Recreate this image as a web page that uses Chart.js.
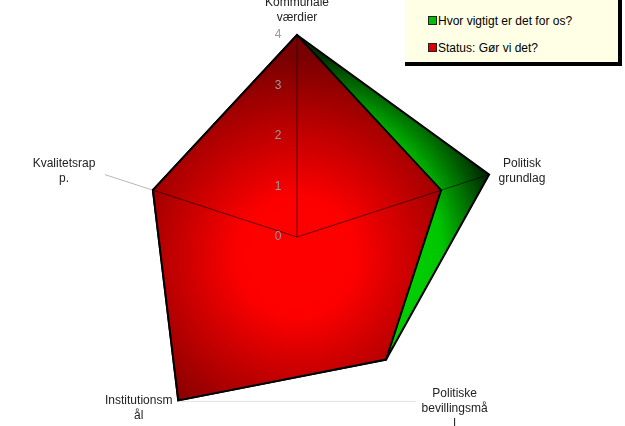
<!DOCTYPE html>
<html>
<head>
<meta charset="utf-8">
<script src="https://cdn.jsdelivr.net/npm/chart.js@4/dist/chart.umd.min.js"></script>
<style>
  html, body { margin: 0; padding: 0; background: #fff; overflow: hidden; width: 625px; height: 426px; }
  #wrap { position: relative; width: 625px; height: 426px; }
  #radar { position: absolute; left: 0; top: 0; }
  .legend {
    position: absolute; left: 405px; top: 0; width: 213px; height: 62px;
    background: #ffffe6; border-right: 4px solid #000; border-bottom: 4px solid #000;
    font: 12px "Liberation Sans", Arial, sans-serif; color: #000;
  }
  .legend .item { position: absolute; left: 23px; height: 14px; line-height: 14px; white-space: nowrap; }
  .legend .box { display: inline-block; width: 7px; height: 7px; border: 1px solid #222; margin-right: 1px; vertical-align: 0px; }
</style>
</head>
<body>
<div id="wrap">
  <canvas id="radar" width="625" height="439"></canvas>
  <div class="legend">
    <div class="item" style="top:14px"><span class="box" style="background:#00c000"></span>Hvor vigtigt er det for os?</div>
    <div class="item" style="top:41px"><span class="box" style="background:#e00000"></span>Status: Gør vi det?</div>
  </div>
</div>
<script>
// data
const categories = [
  ["Kommunale", "værdier"],
  ["Politisk", "grundlag"],
  ["Politiske", "bevillingsmå", "l"],
  ["Institutionsm", "ål"],
  ["Kvalitetsrap", "p."]
];
const importance = [4, 4, 3, 4, 3];   // Hvor vigtigt er det for os?
const status = [4, 3, 3, 4, 3];       // Status: Gør vi det?
const tickValues = [0, 1, 2, 3, 4];

const FONT = '12px "Liberation Sans", Arial, sans-serif';
// the two lower spokes are not drawn in the original
const hiddenSpokes = [2, 3];

function radialFill(stops, fallback) {
  return function (context) {
    const chart = context.chart;
    const s = chart.scales.r;
    if (!chart.chartArea || !s) return fallback;
    const g = chart.ctx.createRadialGradient(s.xCenter, s.yCenter + 20, 0, s.xCenter, s.yCenter + 20, s.drawingArea);
    stops.forEach(st => g.addColorStop(st[0], st[1]));
    return g;
  };
}

// spokes on top of the filled areas + tick numbers + category labels
const overlay = {
  id: 'overlay',
  afterDatasetsDraw(chart) {
    const s = chart.scales.r;
    const ctx = chart.ctx;
    ctx.save();
    ctx.lineWidth = 1;
    categories.forEach((_, i) => {
      if (hiddenSpokes.includes(i)) return;
      const v = Math.max(importance[i], status[i]);
      const p = s.getPointPositionForValue(i, v);
      ctx.strokeStyle = 'rgba(0,0,0,0.6)';
      ctx.beginPath();
      ctx.moveTo(s.xCenter, s.yCenter);
      ctx.lineTo(p.x, p.y);
      ctx.stroke();
    });
    // faint outer edge at the bottom
    const a = s.getPointPositionForValue(2, 4);
    const b = s.getPointPositionForValue(3, 4);
    ctx.strokeStyle = '#e2e2e2';
    ctx.beginPath();
    ctx.moveTo(b.x + 2, b.y + 1);
    ctx.lineTo(a.x, a.y + 1);
    ctx.stroke();
    ctx.restore();
  },
  afterDraw(chart) {
    const s = chart.scales.r;
    const ctx = chart.ctx;
    ctx.save();
    ctx.font = FONT;

    // tick numbers
    ctx.fillStyle = '#9a9a9a';
    ctx.textAlign = 'center';
    ctx.textBaseline = 'middle';
    tickValues.forEach(t => {
      const y = s.yCenter - s.getDistanceFromCenterForValue(t);
      ctx.fillText(String(t), s.xCenter - 19, y);
    });

    // category labels
    ctx.fillStyle = '#222';
    const lh = 15;
    categories.forEach((lines, i) => {
      const p = s.getPointPosition(i, s.drawingArea + 10);
      const w = Math.max(...lines.map(l => ctx.measureText(l).width));
      const h = lines.length * lh;
      let cx = p.x;
      if (p.x > s.xCenter + 5) cx = p.x + w / 2;
      else if (p.x < s.xCenter - 5) cx = p.x - w / 2;
      let top = p.y - h / 2;
      if (p.y < s.yCenter - s.drawingArea) top = p.y - h;
      lines.forEach((l, k) => ctx.fillText(l, cx, top + lh * k + lh / 2));
    });
    ctx.restore();
  }
};

new Chart(document.getElementById('radar'), {
  type: 'radar',
  data: {
    labels: categories,
    datasets: [
      {
        label: 'Hvor vigtigt er det for os?',
        data: importance,
        order: 2,
        fill: true,
        backgroundColor: radialFill([[0, '#00ff00'], [0.72, '#00c400'], [1, '#003000']], '#00a000'),
        borderColor: '#000',
        borderWidth: 2,
        borderJoinStyle: 'miter',
        pointRadius: 0,
        tension: 0
      },
      {
        label: 'Status: Gør vi det?',
        data: status,
        order: 1,
        fill: true,
        backgroundColor: radialFill([[0, '#ff0000'], [0.3, '#fc0000'], [1, '#780000']], '#c00000'),
        borderColor: '#000',
        borderWidth: 2,
        borderJoinStyle: 'miter',
        pointRadius: 0,
        tension: 0
      }
    ]
  },
  options: {
    responsive: false,
    animation: false,
    layout: { padding: { left: 95, right: 126, top: 35, bottom: 0 } },
    plugins: { legend: { display: false }, tooltip: { enabled: false } },
    scales: {
      r: {
        min: 0,
        max: 4,
        ticks: { display: false, stepSize: 1 },
        pointLabels: { display: false },
        grid: { display: false },
        angleLines: {
          color: (c) => hiddenSpokes.includes(c.index) ? 'rgba(0,0,0,0)' : '#b8b8b8',
          lineWidth: 1
        }
      }
    }
  },
  plugins: [overlay]
});
</script>
</body>
</html>
